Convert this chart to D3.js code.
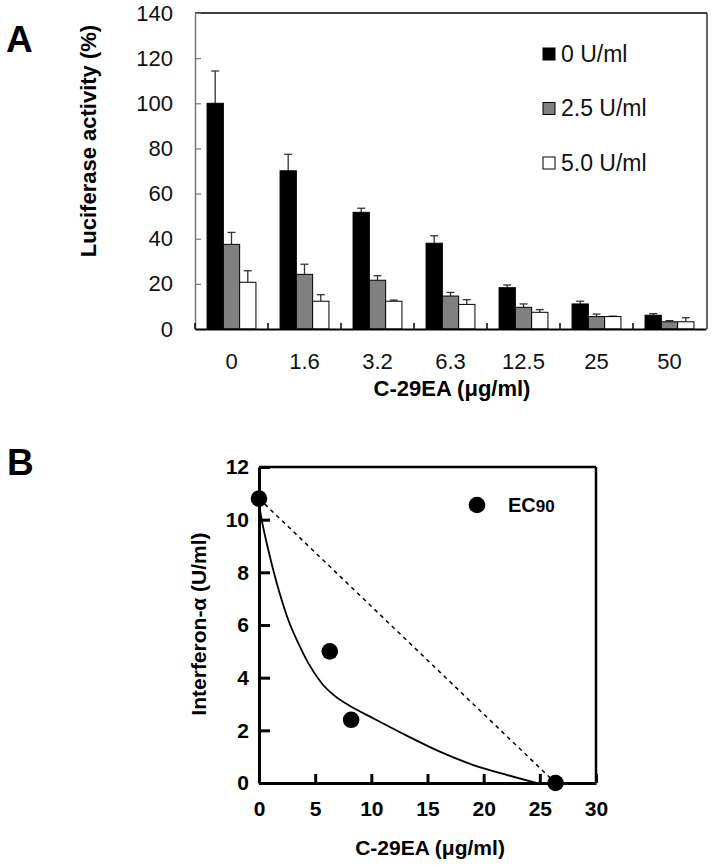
<!DOCTYPE html>
<html><head><meta charset="utf-8">
<script src="https://cdn.jsdelivr.net/npm/d3@7"></script>
<style>
body{margin:0;background:#fff;}
svg{display:block;font-family:"Liberation Sans",Arial,Helvetica,sans-serif;}
</style></head>
<body><svg id="c" width="715" height="865"></svg>
<script>
// ---------- Panel A data ----------
const categories = ["0","1.6","3.2","6.3","12.5","25","50"];
const seriesNames = ["0 U/ml","2.5 U/ml","5.0 U/ml"];
const values0  = [100, 70.1, 51.7, 38.0, 18.3, 11.1, 6.1];
const values25 = [37.5, 24.2, 21.6, 14.6, 9.6, 5.5, 3.2];
const values50 = [20.7, 12.3, 12.3, 10.9, 7.4, 5.5, 3.2];
const errTop0  = [114.3, 77.4, 53.5, 41.3, 19.5, 12.3, 6.8];
const errTop25 = [42.8, 28.7, 23.6, 16.2, 11.1, 6.6, 3.7];
const errTop50 = [25.8, 15.2, 12.8, 13.0, 8.6, 5.7, 5.0];
const yTicksA = [0,20,40,60,80,100,120,140];
const fills = ["#000000","#808080","#ffffff"];

// ---------- Panel B data ----------
const ec90X = [0, 6.3, 8.2, 26.4];
const ec90Y = [10.8, 5.0, 2.4, 0];
const curveX = [0, 0.24, 0.83, 1.42, 2.02, 2.61, 3.5, 4.39, 5.58, 6.77, 8.0, 10.2, 13.15, 16.1, 19.1, 22.1, 24.7];
const curveY = [10.6, 10.0, 8.85, 7.84, 6.95, 6.19, 5.31, 4.55, 3.79, 3.3, 2.95, 2.45, 1.8, 1.19, 0.68, 0.3, 0];
const additiveX = [0, 26.4];
const additiveY = [10.8, 0];
const xTicksB = [0,5,10,15,20,25,30];
const yTicksB = [0,2,4,6,8,10,12];

const svg = d3.select("#c");

// ================= Panel A =================
const A = {l:195, r:706, t:13, b:329};
const x = d3.scaleBand().domain(categories).range([A.l, A.r]);
const xs = d3.scaleBand().domain(seriesNames).range([0, x.bandwidth()]).paddingInner(0).paddingOuter(0.74);
const y = d3.scaleLinear().domain([0,140]).range([A.b, A.t]);

const gA = svg.append("g");
const vals = [values0, values25, values50];
const errs = [errTop0, errTop25, errTop50];
const barData = [];
categories.forEach((c,i)=>seriesNames.forEach((s,j)=>barData.push({c, s, j, v:vals[j][i], e:errs[j][i]})));

gA.selectAll(".err").data(barData).join("g").each(function(d){
  const cx = x(d.c) + xs(d.s) + xs.bandwidth()/2;
  const g = d3.select(this);
  g.append("line").attr("x1",cx).attr("x2",cx).attr("y1",y(d.v)).attr("y2",y(d.e)).attr("stroke","#333").attr("stroke-width",1.3);
  g.append("line").attr("x1",cx-4).attr("x2",cx+4).attr("y1",y(d.e)).attr("y2",y(d.e)).attr("stroke","#333").attr("stroke-width",1.3);
});
gA.selectAll("rect.bar").data(barData).join("rect").attr("class","bar")
  .attr("x",d=>x(d.c)+xs(d.s)).attr("width",xs.bandwidth())
  .attr("y",d=>y(d.v)).attr("height",d=>y(0)-y(d.v))
  .attr("fill",d=>fills[d.j]).attr("stroke","#000").attr("stroke-width",1);

gA.append("line").attr("x1",A.l).attr("x2",A.r+1).attr("y1",A.t).attr("y2",A.t).attr("stroke","#000").attr("stroke-width",1.5);
gA.append("line").attr("x1",A.r+1).attr("x2",A.r+1).attr("y1",A.t).attr("y2",A.b).attr("stroke","#333").attr("stroke-width",1.5);

const yAx = gA.append("g").attr("transform",`translate(${A.l},0)`)
  .call(d3.axisLeft(y).tickValues(yTicksA).tickSizeInner(-6).tickSizeOuter(0).tickPadding(22));
yAx.select(".domain").attr("stroke","#777").attr("stroke-width",1.5);
yAx.selectAll(".tick line").attr("stroke","#777").attr("stroke-width",1.2);
yAx.selectAll("text").attr("font-size",22).attr("fill","#111").attr("font-family","'Liberation Sans',Arial,sans-serif");

const xAx = gA.append("g").attr("transform",`translate(0,${A.b})`)
  .call(d3.axisBottom(x).tickSize(0).tickPadding(24));
xAx.select(".domain").attr("stroke","#000").attr("stroke-width",2);
xAx.selectAll("text").attr("font-size",22).attr("fill","#111").attr("font-family","'Liberation Sans',Arial,sans-serif");
gA.selectAll(".bt").data(categories).join("line")
  .attr("x1",d=>x(d)).attr("x2",d=>x(d)).attr("y1",A.b).attr("y2",A.b-6)
  .attr("stroke","#000").attr("stroke-width",1.5);

gA.append("text").attr("transform","translate(96,141) rotate(-90)").attr("text-anchor","middle")
  .attr("font-size",22).attr("font-weight","bold").text("Luciferase activity (%)");
gA.append("text").attr("x",452).attr("y",396).attr("text-anchor","middle")
  .attr("font-size",22).attr("font-weight","bold").text("C-29EA (μg/ml)");
svg.append("text").attr("x",6).attr("y",52).attr("font-size",37).attr("font-weight","bold").text("A");

const leg = gA.append("g");
seriesNames.forEach((s,j)=>{
  const yy = 48 + j*54.5;
  leg.append("rect").attr("x",543).attr("y",yy).attr("width",12).attr("height",12)
    .attr("fill",fills[j]).attr("stroke","#000").attr("stroke-width",1);
  leg.append("text").attr("x",561).attr("y",yy+13.5).attr("font-size",23).attr("fill","#111").text(s);
});

// ================= Panel B =================
const B = {l:259, r:596, t:467, b:783};
const xb = d3.scaleLinear().domain([0,30]).range([B.l, B.r]);
const yb = d3.scaleLinear().domain([0,12]).range([B.b, B.t]);
const gB = svg.append("g");

gB.append("line").attr("x1",B.l).attr("x2",B.r).attr("y1",B.t).attr("y2",B.t).attr("stroke","#000").attr("stroke-width",2.5);
gB.append("line").attr("x1",B.r).attr("x2",B.r).attr("y1",B.t).attr("y2",B.b).attr("stroke","#000").attr("stroke-width",2.5);

const bFont = "'Liberation Sans',Arial,sans-serif";
const yAxB = gB.append("g").attr("transform",`translate(${B.l},0)`)
  .call(d3.axisLeft(yb).tickValues(yTicksB).tickSizeInner(-11).tickSizeOuter(0).tickPadding(10));
yAxB.select(".domain").attr("stroke","#000").attr("stroke-width",3);
yAxB.selectAll(".tick line").attr("stroke","#000").attr("stroke-width",3);
yAxB.selectAll("text").attr("font-size",21).attr("font-weight","bold").attr("fill","#000").attr("font-family",bFont);

const xAxB = gB.append("g").attr("transform",`translate(0,${B.b})`)
  .call(d3.axisBottom(xb).tickValues(xTicksB).tickSizeInner(-9).tickSizeOuter(0).tickPadding(18));
xAxB.select(".domain").attr("stroke","#000").attr("stroke-width",3);
xAxB.selectAll(".tick line").attr("stroke","#000").attr("stroke-width",3);
xAxB.selectAll("text").attr("font-size",21).attr("font-weight","bold").attr("fill","#000").attr("font-family",bFont);

const lineGen = d3.line().x(d=>xb(d[0])).y(d=>yb(d[1]));
gB.append("path").datum(additiveX.map((v,i)=>[v,additiveY[i]])).attr("d",lineGen)
  .attr("fill","none").attr("stroke","#000").attr("stroke-width",1.5).attr("stroke-dasharray","4,4");
gB.append("path").datum(curveX.map((v,i)=>[v,curveY[i]]))
  .attr("d",d3.line().x(d=>xb(d[0])).y(d=>yb(d[1])).curve(d3.curveMonotoneX))
  .attr("fill","none").attr("stroke","#000").attr("stroke-width",1.8);
gB.selectAll("circle.pt").data(ec90X.map((v,i)=>[v,ec90Y[i]])).join("circle").attr("class","pt")
  .attr("cx",d=>xb(d[0])).attr("cy",d=>yb(d[1])).attr("r",8.3).attr("fill","#000");

gB.append("circle").attr("cx",477).attr("cy",505).attr("r",8.3).attr("fill","#000");
const lt = gB.append("text").attr("x",508).attr("y",512).attr("font-weight","bold").attr("font-family",bFont);
lt.append("tspan").attr("font-size",20).text("EC");
lt.append("tspan").attr("font-size",17).text("90");

gB.append("text").attr("transform","translate(206,624) rotate(-90)").attr("text-anchor","middle")
  .attr("font-size",21).attr("font-weight","bold").attr("font-family",bFont).text("Interferon-α (U/ml)");
gB.append("text").attr("x",430).attr("y",855).attr("text-anchor","middle")
  .attr("font-size",21).attr("font-weight","bold").attr("font-family",bFont).text("C-29EA (μg/ml)");
svg.append("text").attr("x",7).attr("y",475).attr("font-size",37).attr("font-weight","bold").text("B");
</script></body></html>
